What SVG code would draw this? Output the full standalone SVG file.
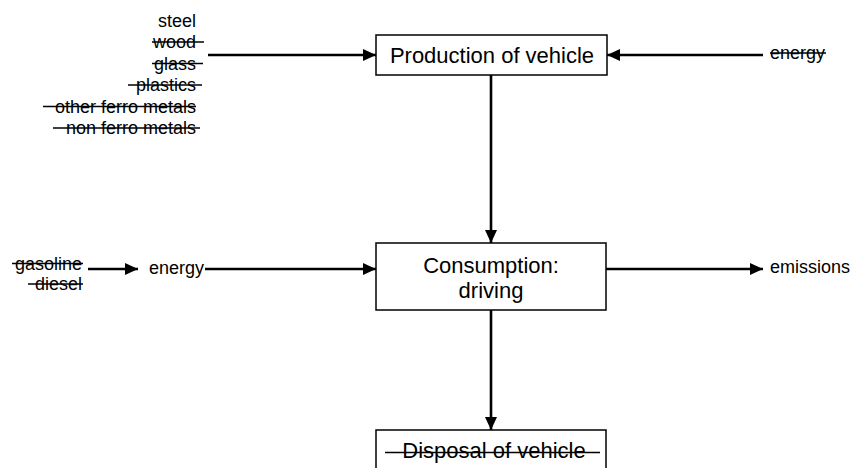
<svg xmlns="http://www.w3.org/2000/svg" width="852" height="468" viewBox="0 0 852 468">
<defs>
<style>
.box{fill:#fff;stroke:#000;stroke-width:1.5}
.big{font-family:"Liberation Sans",Arial,sans-serif;font-size:22px;fill:#000;text-anchor:middle}
.sm{font-family:"Liberation Sans",Arial,sans-serif;font-size:18px;fill:#000}
.r{text-anchor:end}
.st{stroke:#000;stroke-width:1.3}
.ar{stroke:#000;stroke-width:2.6;fill:none;marker-end:url(#ah)}
</style>
<marker id="ah" markerUnits="userSpaceOnUse" markerWidth="13" markerHeight="12" refX="13" refY="6" orient="auto">
<path d="M0,0 L13,6 L0,12 z" fill="#000"/>
</marker>
</defs>
<rect width="852" height="468" fill="#fff"/>
<g id="connectors">
<line class="ar" x1="208" y1="55" x2="376" y2="55"/>
<line class="ar" x1="763" y1="55" x2="607" y2="55"/>
<line class="ar" x1="491" y1="75" x2="491" y2="243"/>
<line class="ar" x1="88" y1="269" x2="138" y2="269"/>
<line class="ar" x1="205" y1="269" x2="376" y2="269"/>
<line class="ar" x1="606" y1="269" x2="763" y2="269"/>
<line class="ar" x1="491" y1="310" x2="491" y2="430"/>
</g>
<g id="materials">
<text class="sm r" x="196" y="26.5">steel</text>
<text class="sm r" x="196" y="48">wood</text>
<line class="st" x1="152" y1="42" x2="204" y2="42"/>
<text class="sm r" x="196" y="69.5">glass</text>
<line class="st" x1="152" y1="63.5" x2="203" y2="63.5"/>
<text class="sm r" x="196" y="91">plastics</text>
<line class="st" x1="128" y1="85" x2="202" y2="85"/>
<text class="sm r" x="196" y="112.5">other ferro metals</text>
<line class="st" x1="43" y1="106.5" x2="196" y2="106.5"/>
<text class="sm r" x="196" y="134">non ferro metals</text>
<line class="st" x1="53" y1="128" x2="200" y2="128"/>
</g>
<g id="energy-in-top">
<text class="sm" x="770" y="59">energy</text>
<line class="st" x1="770" y1="53" x2="826" y2="53"/>
</g>
<g id="production">
<rect class="box" x="376" y="35" width="231" height="40"/>
<text class="big" x="492" y="63">Production of vehicle</text>
</g>
<g id="fuels">
<text class="sm r" x="82" y="269.5">gasoline</text>
<line class="st" x1="12" y1="263.5" x2="83" y2="263.5"/>
<text class="sm r" x="82" y="290">diesel</text>
<line class="st" x1="28" y1="284" x2="83" y2="284"/>
</g>
<g id="energy-mid">
<text class="sm" x="149" y="274">energy</text>
</g>
<g id="consumption">
<rect class="box" x="376" y="243" width="230" height="67"/>
<text class="big" x="491" y="272.5">Consumption:</text>
<text class="big" x="491" y="297.5">driving</text>
</g>
<g id="emissions">
<text class="sm" x="770" y="273">emissions</text>
</g>
<g id="disposal">
<rect class="box" x="376" y="430" width="230" height="50"/>
<text class="big" x="494" y="458">Disposal of vehicle</text>
<line class="st" x1="385" y1="452.5" x2="600" y2="452.5"/>
</g>
</svg>
